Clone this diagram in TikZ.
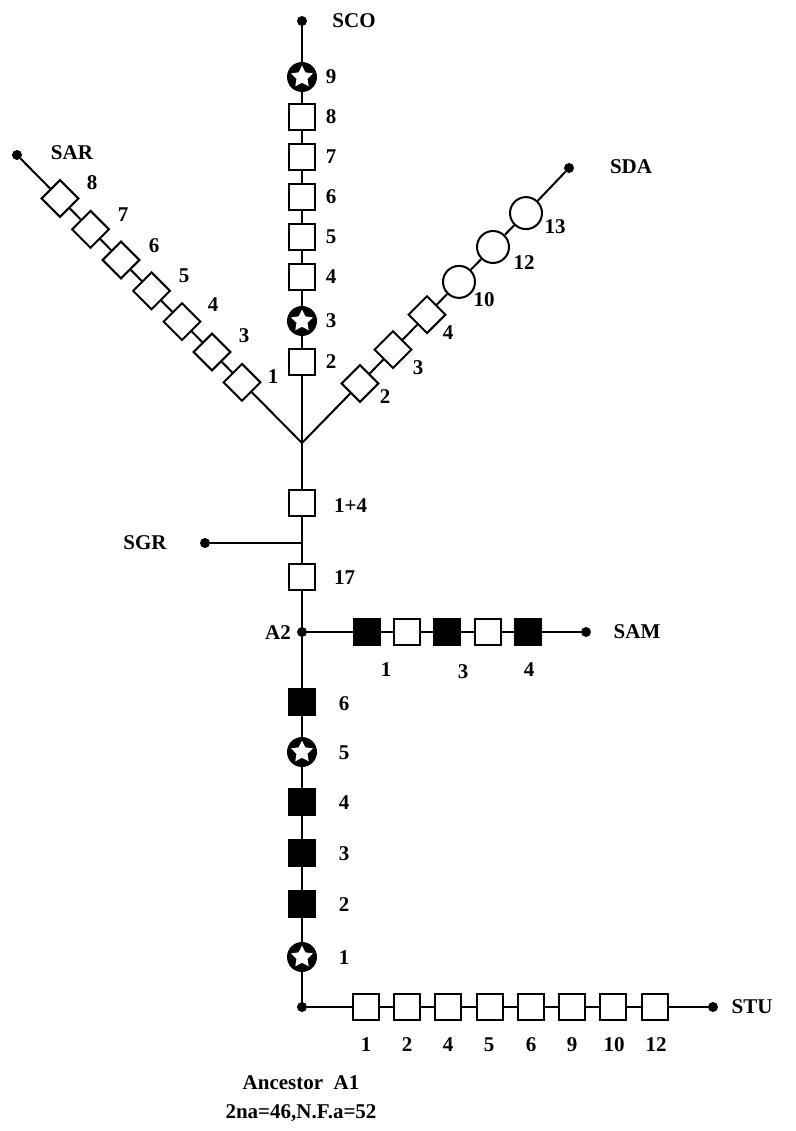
\documentclass[tikz,border=0pt]{standalone}
\usepackage{fontspec}
\setmainfont{Liberation Serif}
\usetikzlibrary{shapes.geometric}
\begin{document}
\begin{tikzpicture}[x=1pt,y=-1pt,
  conn/.style={line width=2pt},
  sq/.style={draw, line width=2pt, fill=white, minimum size=26pt, inner sep=0pt},
  fsq/.style={sq, fill=black},
  dia/.style={sq, rotate=45},
  oc/.style={circle, draw, line width=2pt, fill=white, minimum size=32pt, inner sep=0pt},
  starc/.style={circle, fill=black, minimum size=30pt, inner sep=0pt,
    path picture={\node[star, star points=5, star point ratio=2.0, fill=white, minimum size=23pt, inner sep=0pt] at (path picture bounding box.center) {};}},
  enddot/.style={circle, fill=black, inner sep=0pt, minimum size=10pt},
  lab/.style={font=\bfseries\fontsize{21}{23}\selectfont, inner sep=0pt}
]
\useasboundingbox (0,0) rectangle (795,1131);
\fill[white] (0,0) rectangle (795,1131);

% ---------- SCO branch ----------
\node[enddot] (dsco) at (302,21) {};
\node[starc] (co9) at (302,77) {};
\node[sq] (co8) at (302,117) {};
\node[sq] (co7) at (302,157) {};
\node[sq] (co6) at (302,197) {};
\node[sq] (co5) at (302,237) {};
\node[sq] (co4) at (302,277) {};
\node[starc] (co3) at (302,321) {};
\node[sq] (co2) at (302,362) {};
\coordinate (J) at (302,443);
\draw[conn] (dsco) -- (co9) -- (co8) -- (co7) -- (co6) -- (co5) -- (co4) -- (co3) -- (co2) -- (J);
\node[lab] (tsco) at (354,21) {SCO};
\node[lab] (tco9) at (331,77) {9};
\node[lab] (tco8) at (331,117) {8};
\node[lab] (tco7) at (331,157) {7};
\node[lab] (tco6) at (331,197) {6};
\node[lab] (tco5) at (331,237) {5};
\node[lab] (tco4) at (331,277) {4};
\node[lab] (tco3) at (331,321) {3};
\node[lab] (tco2) at (331,362) {2};

% ---------- SAR branch ----------
\node[enddot] (dsar) at (17,155) {};
\node[dia] (ar8) at (60,198.5) {};
\node[dia] (ar7) at (90.5,229.3) {};
\node[dia] (ar6) at (121,260) {};
\node[dia] (ar5) at (151.5,290.8) {};
\node[dia] (ar4) at (182,321.6) {};
\node[dia] (ar3) at (212,352) {};
\node[dia] (ar1) at (242,382.3) {};
\draw[conn] (dsar) -- (ar8) -- (ar7) -- (ar6) -- (ar5) -- (ar4) -- (ar3) -- (ar1) -- (J);
\node[lab] (tsar) at (72,153) {SAR};
\node[lab] (tar8) at (92,183) {8};
\node[lab] (tar7) at (123,215) {7};
\node[lab] (tar6) at (154,246) {6};
\node[lab] (tar5) at (184,276) {5};
\node[lab] (tar4) at (213,305) {4};
\node[lab] (tar3) at (244,336) {3};
\node[lab] (tar1) at (273,377) {1};

% ---------- SDA branch ----------
\node[enddot] (dsda) at (569,168) {};
\node[dia] (da2) at (360,383.5) {};
\node[dia] (da3) at (393,349.6) {};
\node[dia] (da4) at (427,314.7) {};
\node[oc] (da10) at (459,281.9) {};
\node[oc] (da12) at (493,247) {};
\node[oc] (da13) at (526,213.1) {};
\draw[conn] (J) -- (da2) -- (da3) -- (da4) -- (da10) -- (da12) -- (da13) -- (dsda);
\node[lab] (tsda) at (631,167) {SDA};
\node[lab] (tda2) at (385,397) {2};
\node[lab] (tda3) at (418,368) {3};
\node[lab] (tda4) at (448,333) {4};
\node[lab] (tda10) at (484,300) {10};
\node[lab] (tda12) at (524,263) {12};
\node[lab] (tda13) at (555,227) {13};

% ---------- trunk middle ----------
\node[sq] (m14) at (302,503) {};
\coordinate (jsgr) at (302,543);
\node[sq] (m17) at (302,577) {};
\node[enddot] (a2) at (302,632) {};
\draw[conn] (J) -- (m14) -- (jsgr) -- (m17) -- (a2);
\node[enddot] (dsgr) at (205,543) {};
\draw[conn] (jsgr) -- (dsgr);
\node[lab, anchor=west] (tm14) at (334,506) {1+4};
\node[lab, anchor=west] (tm17) at (334,578) {17};
\node[lab] (tsgr) at (145,543) {SGR};
\node[lab] (ta2) at (278,633) {A2};

% ---------- SAM branch ----------
\node[fsq] (am1) at (367,632) {};
\node[sq] (am2) at (407,632) {};
\node[fsq] (am3) at (447,632) {};
\node[sq] (am4) at (488,632) {};
\node[fsq] (am5) at (528,632) {};
\node[enddot] (dsam) at (586,632) {};
\draw[conn] (a2) -- (am1) -- (am2) -- (am3) -- (am4) -- (am5) -- (dsam);
\node[lab] (tsam) at (637,632) {SAM};
\node[lab] (tam1) at (386,670) {1};
\node[lab] (tam3) at (463,672) {3};
\node[lab] (tam4) at (529,670) {4};

% ---------- trunk lower ----------
\node[fsq] (b6) at (302,702) {};
\node[starc] (b5) at (302,752) {};
\node[fsq] (b4) at (302,802) {};
\node[fsq] (b3) at (302,853) {};
\node[fsq] (b2) at (302,904) {};
\node[starc] (b1) at (302,957) {};
\node[enddot] (a1) at (302,1007) {};
\draw[conn] (a2) -- (b6) -- (b5) -- (b4) -- (b3) -- (b2) -- (b1) -- (a1);
\node[lab] (tb6) at (344,704) {6};
\node[lab] (tb5) at (344,753) {5};
\node[lab] (tb4) at (344,803) {4};
\node[lab] (tb3) at (344,854) {3};
\node[lab] (tb2) at (344,905) {2};
\node[lab] (tb1) at (344,958) {1};

% ---------- STU branch ----------
\node[sq] (tu1) at (366,1007) {};
\node[sq] (tu2) at (407,1007) {};
\node[sq] (tu4) at (448,1007) {};
\node[sq] (tu5) at (490,1007) {};
\node[sq] (tu6) at (531,1007) {};
\node[sq] (tu9) at (572,1007) {};
\node[sq] (tu10) at (613,1007) {};
\node[sq] (tu12) at (655,1007) {};
\node[enddot] (dstu) at (713,1007) {};
\draw[conn] (a1) -- (tu1) -- (tu2) -- (tu4) -- (tu5) -- (tu6) -- (tu9) -- (tu10) -- (tu12) -- (dstu);
\node[lab] (tstu) at (752,1007) {STU};
\node[lab] (ttu1) at (366,1045) {1};
\node[lab] (ttu2) at (407,1045) {2};
\node[lab] (ttu4) at (448,1045) {4};
\node[lab] (ttu5) at (489,1045) {5};
\node[lab] (ttu6) at (531,1045) {6};
\node[lab] (ttu9) at (572,1045) {9};
\node[lab] (ttu10) at (614,1045) {10};
\node[lab] (ttu12) at (656,1045) {12};

% ---------- caption ----------
\node[lab] (anc) at (301,1083) {Ancestor\ \ A1};
\node[lab] (form) at (301,1113) {2na=46,N.F.a=52};
\end{tikzpicture}
\end{document}
